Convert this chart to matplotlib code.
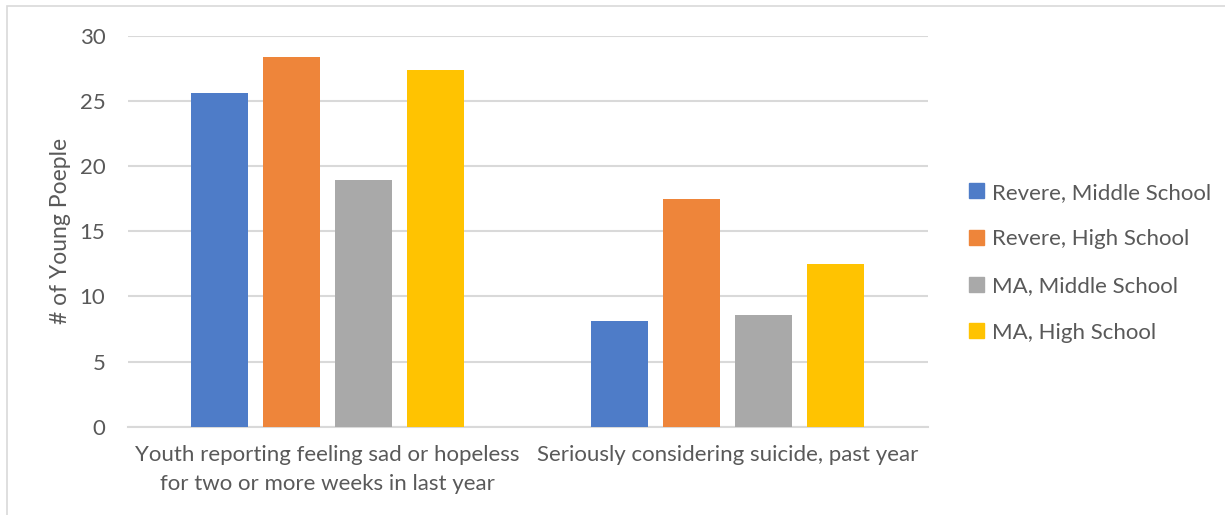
import matplotlib.pyplot as plt
from matplotlib.patches import Rectangle, Patch
import numpy as np

categories = ["Youth reporting feeling sad or hopeless\nfor two or more weeks in last year",
              "Seriously considering suicide, past year"]
series_names = ["Revere, Middle School", "Revere, High School",
                "MA, Middle School", "MA, High School"]
revere_ms = [25.6, 8.1]
revere_hs = [28.4, 17.5]
ma_ms = [18.9, 8.6]
ma_hs = [27.4, 12.5]
colors = ["#4e7cc8", "#ee853a", "#a9a9a9", "#ffc301"]

plt.rcParams['font.family'] = ['Lato', 'DejaVu Sans']
text_color = "#595959"
grid_color = "#d9d9d9"

fig = plt.figure(figsize=(12.25, 5.15), dpi=100)
ax = fig.add_axes([0.1042, 0.1715, 0.6530, 0.7592])

# light frame around the whole chart
fig.patches.append(Rectangle((7 / 1225, -0.1), 1.2, 1.1 - 6 / 515, transform=fig.transFigure,
                             fill=False, edgecolor=grid_color, linewidth=1.2))

x = np.arange(len(categories))
width = 0.1425
step = 0.18
all_series = [revere_ms, revere_hs, ma_ms, ma_hs]
for i, (vals, name, c) in enumerate(zip(all_series, series_names, colors)):
    ax.bar(x + (i - 1.5) * step, vals, width, color=c, label=name, zorder=3)

ax.set_xlim(-0.5, 1.5)
ax.set_ylim(0, 30)
ax.set_yticks(range(0, 31, 5))
ax.yaxis.grid(True, color=grid_color, linewidth=1.5, zorder=0)
for s in ["top", "right", "left"]:
    ax.spines[s].set_visible(False)
ax.spines["bottom"].set_color(grid_color)
ax.spines["bottom"].set_linewidth(1.5)
ax.tick_params(axis="both", length=0, labelsize=16, colors=text_color)
ax.tick_params(axis="y", pad=16)
ax.tick_params(axis="x", pad=13)
ax.set_xticks(x)
ax.set_xticklabels(categories, linespacing=1.6)
ax.set_ylabel("# of Young Poeple", fontsize=16.5, color=text_color, labelpad=6)

handles = [Patch(color=c) for c in colors]
fig.legend(handles, series_names, loc="center left", bbox_to_anchor=(0.775, 0.490),
           frameon=False, fontsize=16, labelcolor=text_color,
           handlelength=0.65, handleheight=0.65, handletextpad=0.35, labelspacing=1.2)

fig.savefig("out.png", dpi=100)
